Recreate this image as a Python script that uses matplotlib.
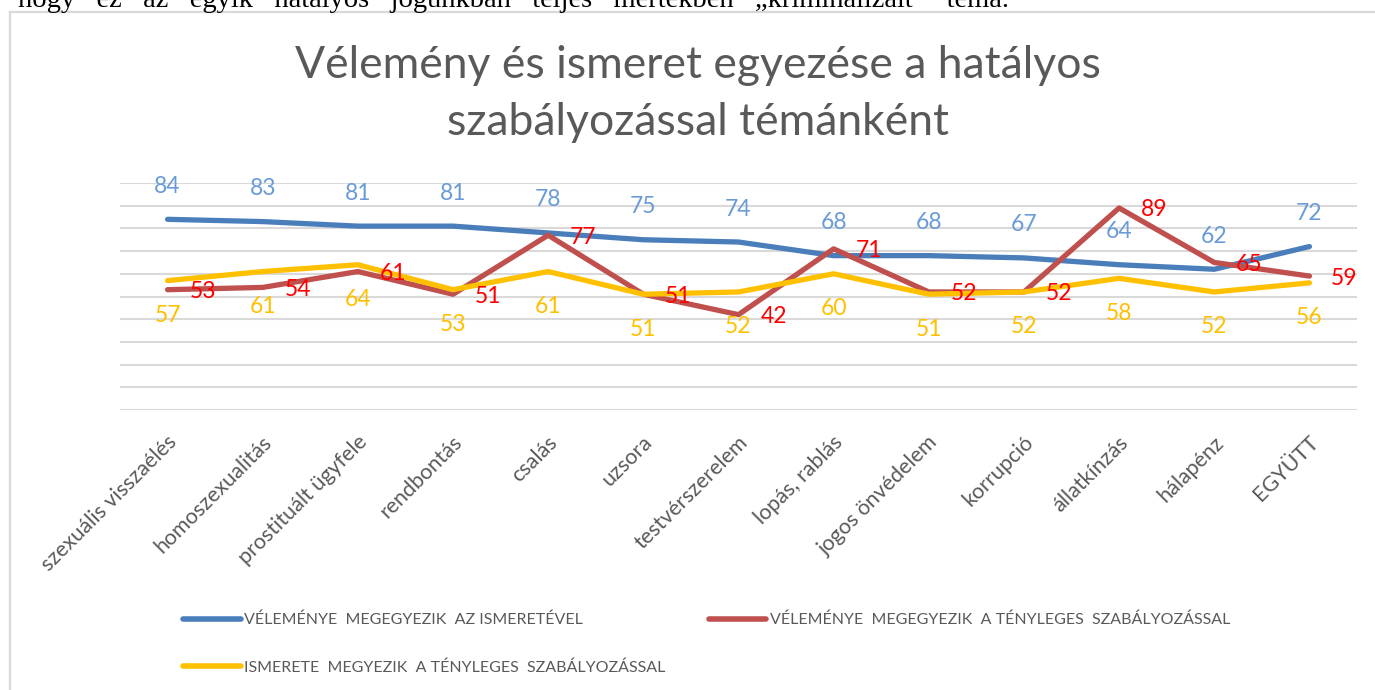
import matplotlib
matplotlib.use("Agg")
import matplotlib.pyplot as plt
from matplotlib.lines import Line2D
import matplotlib.transforms as mtransforms

# ---- data ----
categories = ["szexuális visszaélés", "homoszexualitás", "prostituált ügyfele",
              "rendbontás", "csalás", "uzsora", "testvérszerelem", "lopás, rablás",
              "jogos önvédelem", "korrupció", "állatkínzás", "hálapénz", "EGYÜTT"]
opinion_knowledge = [84, 83, 81, 81, 78, 75, 74, 68, 68, 67, 64, 62, 72]
opinion_regulation = [53, 54, 61, 51, 77, 51, 42, 71, 52, 52, 89, 65, 59]
knowledge_regulation = [57, 61, 64, 53, 61, 51, 52, 60, 51, 52, 58, 52, 56]
series_names = ["VÉLEMÉNYE  MEGEGYEZIK  AZ ISMERETÉVEL",
                "VÉLEMÉNYE  MEGEGYEZIK  A TÉNYLEGES  SZABÁLYOZÁSSAL",
                "ISMERETE  MEGYEZIK  A TÉNYLEGES  SZABÁLYOZÁSSAL"]
title = "Vélemény és ismeret egyezése a hatályos\nszabályozással témánként"
top_words = ["hogy", "ez", "az", "egyik", "hatályos", "jogunkban", "teljes",
             "mértékben", "„kriminalizált”", "téma."]

W, H = 1375, 690
fig = plt.figure(figsize=(W / 100, H / 100), dpi=100)
FONT = ["Lato", "DejaVu Sans"]

# top cut-off document text
fig.text(18 / W, 1 - 7 / H, "   ".join(top_words),
         family=["Liberation Serif", "DejaVu Serif"],
         fontsize=20.5, color="black", ha="left", va="baseline")

# chart border (left + top)
fig.add_artist(Line2D([10 / W, 10 / W], [0, 1 - 12 / H], color="#D9D9D9", lw=1.6,
                      transform=fig.transFigure))
fig.add_artist(Line2D([10 / W, 1], [1 - 12 / H, 1 - 12 / H], color="#D9D9D9", lw=1.6,
                      transform=fig.transFigure))

# title
fig.text(698 / W, 1 - 94 / H, title, family=FONT, fontweight="normal", fontsize=32,
         color="#595959", ha="center", va="center", linespacing=1.5)

ax = fig.add_axes([120 / W, 1 - 410 / H, (1357 - 120) / W, (410 - 183) / H])
x = list(range(len(categories)))
ax.set_xlim(-0.5, len(categories) - 0.5)
ax.set_ylim(0, 100)
ax.set_yticks(range(0, 101, 10))
ax.yaxis.grid(True, color="#D9D9D9", lw=1.5)
ax.set_axisbelow(True)
ax.tick_params(axis="y", left=False, labelleft=False)
ax.tick_params(axis="x", length=0, pad=21)
for s in ax.spines.values():
    s.set_visible(False)

blue, red, yellow = "#4A7EBB", "#C0504D", "#FFC000"
lw = 3.8
l1, = ax.plot(x, opinion_knowledge, color=blue, lw=lw, solid_capstyle="round",
              solid_joinstyle="round", zorder=2)
l2, = ax.plot(x, opinion_regulation, color=red, lw=lw, solid_capstyle="round",
              solid_joinstyle="round", zorder=3)
l3, = ax.plot(x, knowledge_regulation, color=yellow, lw=lw, solid_capstyle="round",
              solid_joinstyle="round", zorder=4)

lab_fs = 16.5
for xi, v in zip(x, opinion_knowledge):
    ax.annotate(str(v), (xi, v), xytext=(0, 33), textcoords="offset pixels",
                ha="center", va="center", color="#6A9BD8", fontsize=lab_fs,
                family=FONT, zorder=5)
for xi, v in zip(x, opinion_regulation):
    ax.annotate(str(v), (xi, v), xytext=(35, -2), textcoords="offset pixels",
                ha="center", va="center", color="#FF0000", fontsize=lab_fs,
                family=FONT, zorder=5)
for xi, v in zip(x, knowledge_regulation):
    ax.annotate(str(v), (xi, v), xytext=(0, -35), textcoords="offset pixels",
                ha="center", va="center", color="#FFC000", fontsize=lab_fs,
                family=FONT, zorder=5)

ax.set_xticks(x)
ax.set_xticklabels(categories, rotation=45, ha="right", va="center",
                   rotation_mode="anchor", fontsize=15.5, color="#595959", family=FONT)
shift = mtransforms.ScaledTranslation(6 / 100, 0, fig.dpi_scale_trans)
for t in ax.get_xticklabels():
    t.set_transform(t.get_transform() + shift)

leg = fig.legend([l1, l3, l2], [series_names[0], series_names[2], series_names[1]],
                 ncol=2, loc="upper left", bbox_to_anchor=(183 / W, 1 - 613 / H),
                 frameon=False, borderpad=0, borderaxespad=0, handlelength=3.6,
                 handletextpad=0.22, columnspacing=2.7, labelspacing=2.05,
                 prop={"family": FONT, "size": 11.5})
for t in leg.get_texts():
    t.set_color("#595959")
for h in leg.legend_handles:
    h.set_linewidth(4)
    h.set_solid_capstyle("round")

fig.savefig("out.png", dpi=100)
